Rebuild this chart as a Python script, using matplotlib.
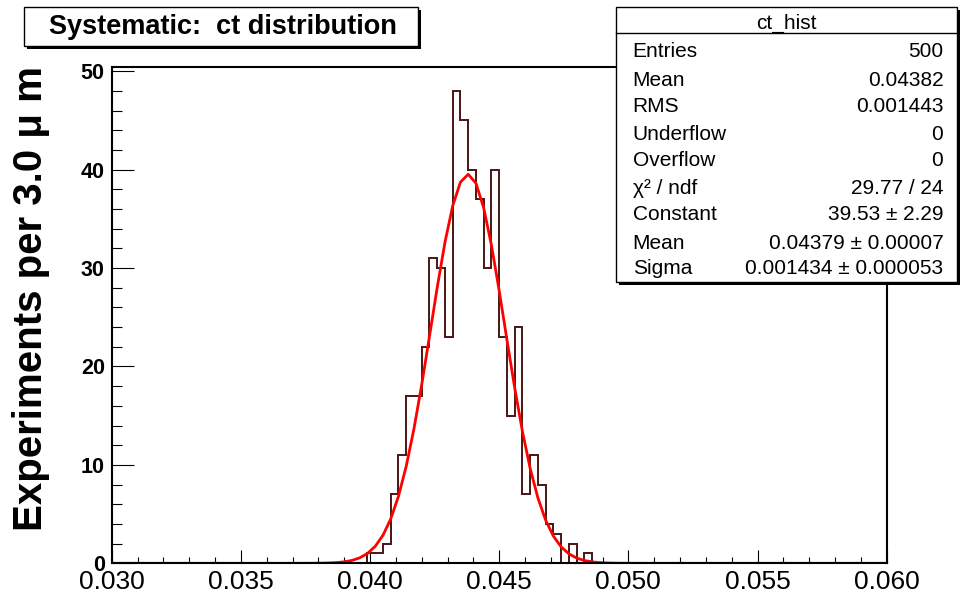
import numpy as np
import matplotlib
matplotlib.use("Agg")
import matplotlib.pyplot as plt
from matplotlib.patches import Rectangle
from matplotlib.ticker import MultipleLocator

# ---------------- data ----------------
x_min, x_max, n_bins = 0.030, 0.060, 100
first_bin_low = 0.0399
counts_from_first = [1, 1, 2, 7, 11, 17, 17, 22, 31, 30, 23, 48, 45, 40, 37,
                     30, 40, 23, 15, 24, 7, 11, 8, 4, 3, 0, 2, 0, 1]
fit_constant = 39.53
fit_mean = 0.04379
fit_sigma = 0.001434

x_ticks = [0.030, 0.035, 0.040, 0.045, 0.050, 0.055, 0.060]
x_tick_labels = ["0.030", "0.035", "0.040", "0.045", "0.050", "0.055", "0.060"]
y_ticks = [0, 10, 20, 30, 40, 50]
y_tick_labels = ["0", "10", "20", "30", "40", "50"]

title_text = "Systematic:  ct distribution"
y_label = "Experiments per 3.0 \u03bc m"
stats_title = "ct_hist"
stats_labels = ["Entries", "Mean", "RMS", "Underflow", "Overflow",
                "\u03c7\u00b2 / ndf", "Constant", "Mean", "Sigma"]
stats_values = ["500", "0.04382", "0.001443", "0", "0", "29.77 / 24",
                "39.53 \u00b1 2.29", "0.04379 \u00b1 0.00007",
                "0.001434 \u00b1 0.000053"]

# ---------------- build histogram ----------------
edges = np.linspace(x_min, x_max, n_bins + 1)
bw = (x_max - x_min) / n_bins
counts = np.zeros(n_bins)
start = int(round((first_bin_low - x_min) / bw))
counts[start:start + len(counts_from_first)] = counts_from_first

xf = np.linspace(x_min, x_max, n_bins + 1)
yf = fit_constant * np.exp(-0.5 * ((xf - fit_mean) / fit_sigma) ** 2)

plt.rcParams["font.family"] = ["Liberation Sans", "DejaVu Sans"]

W, H = 960, 594
fig = plt.figure(figsize=(W / 100, H / 100), dpi=100)

def fx(px):
    return px / W

def fy(py):
    return 1 - py / H

ax_l, ax_r, ax_t, ax_b = 111.7, 886.7, 67.3, 563.3
ax = fig.add_axes([fx(ax_l), fy(ax_b), (ax_r - ax_l) / W, (ax_b - ax_t) / H])

ax.stairs(counts, edges, baseline=0, fill=False, color="#4a1515",
          linewidth=1.4, zorder=2)
ax.plot(xf, yf, color="#ff0000", linewidth=2.0, zorder=3)

ax.set_xlim(x_min, x_max)
ax.set_ylim(0, max(counts) * 1.05)

ax.set_xticks(x_ticks)
ax.set_xticklabels(x_tick_labels, fontsize=19)
ax.xaxis.set_minor_locator(MultipleLocator(0.001))
ax.set_yticks(y_ticks)
ax.set_yticklabels(y_tick_labels, fontsize=15.5, fontweight="bold")
ax.yaxis.set_minor_locator(MultipleLocator(2))

ax.tick_params(axis="x", which="major", direction="in", length=9.1, width=0.8, pad=5)
ax.tick_params(axis="x", which="minor", direction="in", length=4.1, width=0.8)
ax.tick_params(axis="y", which="major", direction="in", length=15.6, width=0.8, pad=5)
ax.tick_params(axis="y", which="minor", direction="in", length=7.2, width=0.8)
ax.tick_params(top=False, right=False, which="both")
for s in ax.spines.values():
    s.set_linewidth(1.5)
    s.set_zorder(4)

# y label
fig.text(fx(31), fy(298.5), y_label, rotation=90, ha="center", va="center",
         fontsize=29, fontweight="bold")

# title box
tb_l, tb_t, tb_r, tb_b = 24, 7, 418, 46
sh = 3
fig.patches.append(Rectangle((fx(tb_l + sh), fy(tb_b + sh)), (tb_r - tb_l) / W,
                             (tb_b - tb_t) / H, transform=fig.transFigure,
                             facecolor="black", edgecolor="none", zorder=5))
fig.patches.append(Rectangle((fx(tb_l), fy(tb_b)), (tb_r - tb_l) / W,
                             (tb_b - tb_t) / H, transform=fig.transFigure,
                             facecolor="white", edgecolor="black", linewidth=1.0,
                             zorder=6))
fig.text(fx(222.5), fy((tb_t + tb_b) / 2 + 1), title_text,
         ha="center", va="center", fontsize=19.5, fontweight="bold", zorder=7)

# stats box
sb_l, sb_t, sb_r, sb_b = 616, 7.3, 957, 281.7
fig.patches.append(Rectangle((fx(sb_l + sh), fy(sb_b + sh)), (sb_r - sb_l) / W,
                             (sb_b - sb_t) / H, transform=fig.transFigure,
                             facecolor="black", edgecolor="none", zorder=5))
fig.patches.append(Rectangle((fx(sb_l), fy(sb_b)), (sb_r - sb_l) / W,
                             (sb_b - sb_t) / H, transform=fig.transFigure,
                             facecolor="white", edgecolor="black", linewidth=1.0,
                             zorder=6))
fig.add_artist(plt.Line2D([fx(sb_l), fx(sb_r)], [fy(33.3), fy(33.3)],
                          transform=fig.transFigure, color="black",
                          linewidth=1.0, zorder=7))
fig.text(fx(786.7), fy(28.5), stats_title, ha="center", va="baseline",
         fontsize=15, zorder=7)
row_centers = [50, 79, 105, 132.7, 159.3, 186.7, 213.3, 241.7, 266.7]
for lab, val, yc in zip(stats_labels, stats_values, row_centers):
    fig.text(fx(632.7), fy(yc + 7), lab, ha="left", va="baseline",
             fontsize=15, zorder=7)
    fig.text(fx(943.3), fy(yc + 7), val, ha="right", va="baseline",
             fontsize=15, zorder=7)

fig.savefig("out.png", dpi=100)
